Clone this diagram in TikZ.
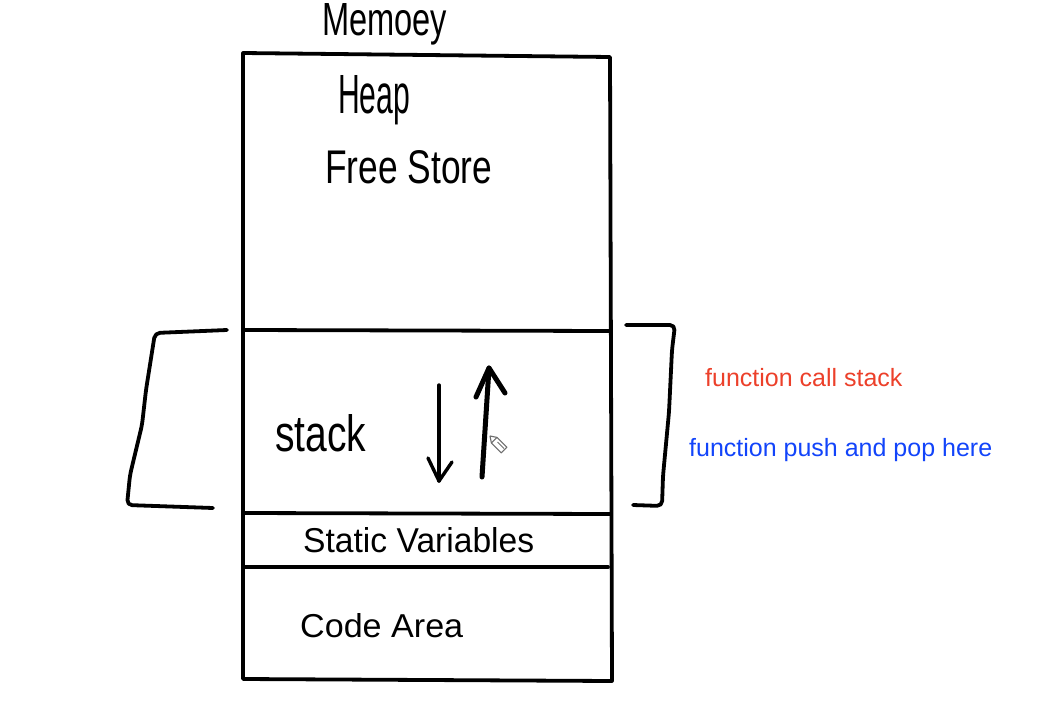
\documentclass[tikz,border=0pt]{standalone}
\usepackage{fontspec}
\setmainfont{Liberation Sans}
\usepackage{graphicx}
\definecolor{callred}{RGB}{236,64,42}
\definecolor{pushblue}{RGB}{18,68,250}
\definecolor{pencilgray}{RGB}{110,110,110}
\newcommand{\handtext}[3]{\resizebox{#1pt}{#2pt}{#3}}
\begin{document}
\begin{tikzpicture}[x=1pt,y=-1pt,
  ink/.style={line width=3.8pt, line cap=round, line join=round},
  thinink/.style={line width=3.4pt, line cap=round, line join=round},
  thickink/.style={line width=5pt, line cap=round, line join=round},
  bracketline/.style={line width=3.8pt, line cap=round, line join=round, rounded corners=5pt},
  hand/.style={inner sep=0pt, anchor=base west},
  note/.style={inner sep=0pt, anchor=base west, font=\fontsize{25}{30}\selectfont},
]
\useasboundingbox (0,0) rectangle (1060,728);
% outer box
\coordinate (tl) at (243,53);
\coordinate (tr) at (610,57);
\coordinate (br) at (612,681);
\coordinate (bl) at (243,679);
\draw[ink] (tl) -- (tr) -- (br) -- (bl) -- cycle;
% dividers
\coordinate (d1l) at (243,330); \coordinate (d1r) at (610,331);
\coordinate (d2l) at (243,513); \coordinate (d2r) at (611,514);
\coordinate (d3l) at (243,567); \coordinate (d3r) at (608,567);
\draw[ink] (d1l) -- (d1r);
\draw[ink] (d2l) -- (d2r);
\draw[ink] (d3l) -- (d3r);
% brackets
\draw[bracketline] (227,330) -- (155,333) -- (146,390) -- (142,425) -- (130,475) -- (127,505) -- (213,508);
\draw[bracketline] (626,325) -- (675,325) -- (672,350) -- (669,412) -- (663,476) -- (662,506) -- (633,505);
% arrows
\coordinate (downS) at (439,385); \coordinate (downE) at (439,481);
\draw[thinink] (downS) -- (downE);
\draw[thinink] (428,458) -- (downE) -- (452,462);
\coordinate (upS) at (482,477); \coordinate (upE) at (489,368);
\draw[thickink] (upS) -- (upE);
\draw[thickink] (476,397) -- (upE) -- (505,393);
% pencil cursor
\draw[pencilgray, fill=white, line width=1.1pt, line join=round]
  (490,436) -- (497,437.4) -- (506.9,447.3) -- (501.3,452.9) -- (491.4,443) -- cycle;
\draw[pencilgray, line width=1.1pt] (497,437.4) -- (491.4,443);
\draw[pencilgray, line width=0.9pt] (497.5,442) -- (504,448.5);
% texts
\node[hand] (memory) at (322,35) {\handtext{125}{32}{Memoey}};
\node[hand] (heap) at (338,113) {\handtext{72}{38}{Heap}};
\node[hand] (free) at (325,183) {\handtext{167}{33}{Free Store}};
\node[hand] (stack) at (275,451) {\handtext{91}{37}{stack}};
\node[hand] (static) at (303,552) {\handtext{231}{25}{Static Variables}};
\node[hand] (code) at (300,637) {\handtext{163}{24}{Code Area}};
\node[note, text=callred] (call) at (705,386) {function call stack};
\node[note, text=pushblue] (push) at (689,456) {function push and pop here};
\end{tikzpicture}
\end{document}
